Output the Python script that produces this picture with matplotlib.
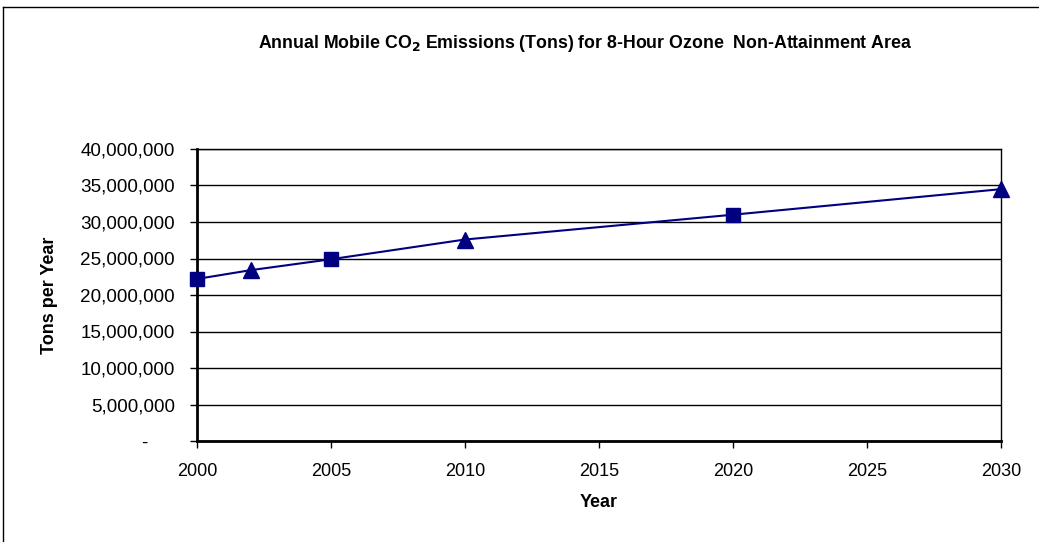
import matplotlib
matplotlib.use("Agg")
import matplotlib.pyplot as plt
from matplotlib.lines import Line2D
from matplotlib.ticker import FuncFormatter

# 数据
YEARS_SQ = [2000, 2005, 2020]
TONS_SQ = [22200000, 24900000, 31000000]
YEARS_TRI = [2002, 2010, 2030]
TONS_TRI = [23400000, 27600000, 34500000]
YEARS_ALL = [2000, 2002, 2005, 2010, 2020, 2030]
TONS_ALL = [22200000, 23400000, 24900000, 27600000, 31000000, 34500000]

NAVY = "#000080"

plt.rcParams['font.family'] = ['Liberation Sans', 'DejaVu Sans']
plt.rcParams['mathtext.default'] = 'bf'

fig = plt.figure(figsize=(10.39, 5.42), dpi=100)
ax = fig.add_axes([197/1039, 1-441/542, (1001-197)/1039, (441-149)/542])

ax.plot(YEARS_ALL, TONS_ALL, color=NAVY, lw=1.5, zorder=3, clip_on=False)
ax.plot(YEARS_SQ, TONS_SQ, ls='none', marker='s', ms=10, color=NAVY, zorder=4, clip_on=False)
ax.plot(YEARS_TRI, TONS_TRI, ls='none', marker='^', ms=11, color=NAVY, zorder=4, clip_on=False)

ax.set_xlim(2000, 2030)
ax.set_ylim(0, 40000000)
ax.set_xticks(range(2000, 2031, 5))
ax.set_yticks(range(0, 40000001, 5000000))
# Excel 会计格式：0 显示为 "-"
ax.yaxis.set_major_formatter(FuncFormatter(lambda v, p: "-     " if v == 0 else f"{int(v):,}"))
ax.grid(axis='y', color='black', lw=1)
ax.set_axisbelow(True)
for s in ax.spines.values():
    s.set_color('black')
ax.spines['left'].set_linewidth(2)
ax.spines['bottom'].set_linewidth(2)
ax.spines['right'].set_linewidth(1)
ax.spines['top'].set_linewidth(1)
ax.tick_params(axis='both', direction='out', length=5, width=1, labelsize=13, colors='black')
ax.tick_params(axis='y', pad=11, labelsize=13.6)
ax.tick_params(axis='x', pad=11)

ax.set_xlabel("Year", fontsize=13, fontweight='bold', labelpad=10)
ax.set_ylabel("Tons per Year", fontsize=13, fontweight='bold', labelpad=16)

fig.text(585/1039, 1-43/542, "Annual Mobile CO$_2$ Emissions (Tons) for 8-Hour Ozone  Non-Attainment Area",
         ha='center', va='center', fontsize=12.8, fontweight='bold')

# 外框
fig.add_artist(Line2D([3/1039, 3/1039], [0, 1-7/542], color='black', lw=1, transform=fig.transFigure))
fig.add_artist(Line2D([3/1039, 1], [1-7/542, 1-7/542], color='black', lw=1, transform=fig.transFigure))

fig.savefig("out.png", dpi=100)
